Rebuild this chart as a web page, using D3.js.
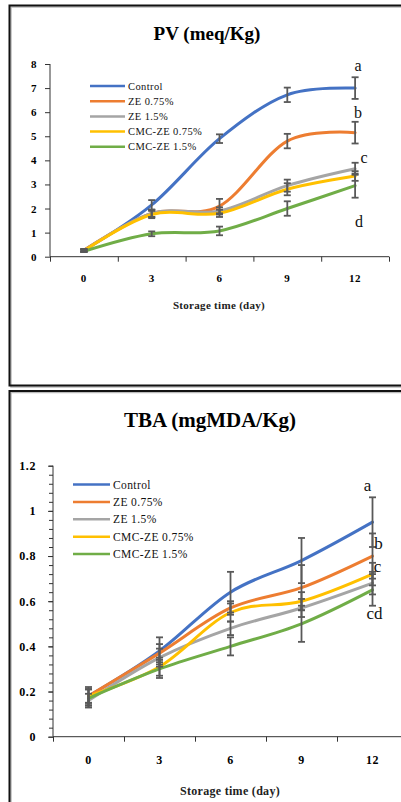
<!DOCTYPE html>
<html><head><meta charset="utf-8">
<script src="https://cdn.jsdelivr.net/npm/d3@7"></script>
<style>
html,body{margin:0;padding:0;background:#fff;}
svg{display:block;}
text{font-family:"Liberation Serif","Times New Roman",serif;}
</style></head>
<body>
<svg id="c" width="401" height="802"></svg>
<script>
const days = ["0","3","6","9","12"];
const seriesNames = ["Control","ZE 0.75%","ZE 1.5%","CMC-ZE 0.75%","CMC-ZE 1.5%"];
const seriesColors = ["#4472C4","#ED7D31","#A5A5A5","#FFC000","#70AD47"];

// PV (meq/Kg)
const pvControl = [0.27, 2.15, 4.9, 6.72, 7.0];
const pvZE075   = [0.27, 1.8, 2.1, 4.8, 5.15];
const pvZE15    = [0.25, 1.8, 1.9, 2.95, 3.65];
const pvCMC075  = [0.25, 1.75, 1.8, 2.8, 3.35];
const pvCMC15   = [0.22, 0.95, 1.07, 2.0, 2.95];
const pvErrControl = [0.05, 0.2, 0.18, 0.3, 0.45];
const pvErrZE075   = [0.05, 0.15, 0.3, 0.3, 0.45];
const pvErrZE15    = [0.05, 0.15, 0.15, 0.25, 0.25];
const pvErrCMC075  = [0.05, 0.15, 0.15, 0.25, 0.2];
const pvErrCMC15   = [0.03, 0.1, 0.18, 0.3, 0.5];
const pvTicks = [0,1,2,3,4,5,6,7,8];
const pvLetters = ["a","b","c","d"];
const pvLetterY = [7.7, 5.75, 3.9, 1.25];
const pvLetterDx = [3, 3, 9, 4];

// TBA (mgMDA/Kg)
const tbaControl = [0.18, 0.38, 0.64, 0.78, 0.95];
const tbaZE075   = [0.18, 0.37, 0.57, 0.66, 0.80];
const tbaZE15    = [0.16, 0.35, 0.48, 0.57, 0.68];
const tbaCMC075  = [0.18, 0.31, 0.55, 0.60, 0.72];
const tbaCMC15   = [0.17, 0.30, 0.40, 0.50, 0.65];
const tbaErrControl = [0.04, 0.06, 0.09, 0.10, 0.11];
const tbaErrZE075   = [0.03, 0.04, 0.03, 0.10, 0.10];
const tbaErrZE15    = [0.03, 0.04, 0.03, 0.04, 0.05];
const tbaErrCMC075  = [0.03, 0.04, 0.04, 0.04, 0.05];
const tbaErrCMC15   = [0.04, 0.04, 0.04, 0.08, 0.07];
const tbaTicks = [0,0.2,0.4,0.6,0.8,1,1.2];
const tbaLetters = ["a","b","c","cd"];
const tbaLetterY = [1.09, 0.83, 0.73, 0.52];
const tbaLetterDx = [-5, 6, 5, 2];

const svg = d3.select("#c");

// panel frames
function frame(x, y, w, h){
  svg.append("rect").attr("x",x+1.5).attr("y",y+1.5).attr("width",w).attr("height",h)
    .attr("fill","none").attr("stroke","#bbb").attr("stroke-width",1.5);
  svg.append("rect").attr("x",x).attr("y",y).attr("width",w).attr("height",h)
    .attr("fill","none").attr("stroke","#111").attr("stroke-width",2);
}
frame(9.5, 5.5, 420, 380);
frame(9.5, 391, 420, 430);

function chart(cfg){
  const g = svg.append("g");
  const x = d3.scaleBand().domain(days).range(cfg.xr);
  const xi = d3.scaleLinear().domain([0, days.length]).range(cfg.xr);
  const y = d3.scaleLinear().domain(cfg.yd).range(cfg.yr);
  const cx = d => x(d) + x.bandwidth()/2;

  // title
  g.append("text").attr("x",cfg.titleX).attr("y",cfg.titleY).attr("text-anchor","middle")
    .attr("font-weight","bold").attr("font-size",cfg.titleSize).attr("fill","#000").text(cfg.title);

  // minor ticks
  if (cfg.minor){
    g.append("g").attr("transform",`translate(${cfg.xr[0]},0)`)
      .call(d3.axisLeft(y).tickValues(d3.range(0, cfg.yd[1]+1e-9, cfg.minor)).tickSize(4).tickFormat(""))
      .call(s=>s.select(".domain").remove())
      .call(s=>s.selectAll("line").attr("stroke","#333"));
  }
  // y axis
  const ya = g.append("g").attr("transform",`translate(${cfg.xr[0]},0)`)
    .call(d3.axisLeft(y).tickValues(cfg.yTicks).tickSize(5).tickPadding(cfg.yPad).tickFormat(d=>d3.format("")(+d.toFixed(2))));
  ya.select(".domain").attr("stroke","#333").attr("d",`M0,${cfg.yr[0]}V${cfg.yr[1]}`);
  ya.selectAll("line").attr("stroke","#333");
  ya.selectAll("text").attr("font-family","'Liberation Serif',serif").attr("font-weight","bold")
    .attr("font-size",cfg.tickSize).attr("fill","#000").attr("letter-spacing",0.6);

  // x axis tick marks at band boundaries
  const xa = g.append("g").attr("transform",`translate(0,${cfg.yr[0]})`)
    .call(d3.axisBottom(xi).ticks(days.length).tickSize(5).tickFormat(""));
  xa.select(".domain").attr("stroke","#333").attr("d",`M${cfg.xr[0]},0H${cfg.xr[1]}`);
  xa.selectAll("line").attr("stroke","#333");
  // x labels
  const xl = g.append("g").attr("transform",`translate(0,${cfg.yr[0]})`)
    .call(d3.axisBottom(x).tickSize(0));
  xl.select(".domain").remove();
  xl.selectAll("text").attr("y",cfg.xLabOff).attr("dy","0.35em")
    .attr("font-family","'Liberation Serif',serif").attr("font-weight","bold")
    .attr("font-size",cfg.tickSize).attr("fill","#000").attr("letter-spacing",0.6);

  // x title
  g.append("text").attr("x",cfg.xTitleX).attr("y",cfg.xTitleY).attr("text-anchor","middle")
    .attr("font-weight","bold").attr("font-size",cfg.xTitleSize).attr("letter-spacing",0.3)
    .attr("fill","#222").text("Storage time (day)");

  // lines
  const line = d3.line().x((v,i)=>cx(days[i])).y(v=>y(v)).curve(d3.curveCardinal.tension(0));
  cfg.series.forEach((s,k)=>{
    g.append("path").attr("d",line(s)).attr("fill","none")
      .attr("stroke",seriesColors[k]).attr("stroke-width",3).attr("stroke-linecap","round");
  });
  // error bars
  cfg.series.forEach((s,k)=>{
    s.forEach((v,i)=>{
      const e = cfg.errs[k][i];
      const px = cx(days[i]);
      const eb = g.append("g").attr("stroke","#595959").attr("stroke-width",1.8);
      eb.append("line").attr("x1",px).attr("x2",px).attr("y1",y(v+e)).attr("y2",y(v-e));
      eb.append("line").attr("x1",px-3.5).attr("x2",px+3.5).attr("y1",y(v+e)).attr("y2",y(v+e));
      eb.append("line").attr("x1",px-3.5).attr("x2",px+3.5).attr("y1",y(v-e)).attr("y2",y(v-e));
    });
  });
  // letters
  cfg.letters.forEach((t,i)=>{
    g.append("text").attr("x",cx(days[days.length-1])+cfg.letterDx[i]).attr("y",y(cfg.letterY[i]))
      .attr("text-anchor","middle").attr("font-size",cfg.letterSize).attr("fill","#111").text(t);
  });
  // legend
  seriesNames.forEach((n,k)=>{
    const ly = cfg.legY + k*cfg.legStep;
    g.append("line").attr("x1",cfg.legX).attr("x2",cfg.legX+cfg.legLen).attr("y1",ly).attr("y2",ly)
      .attr("stroke",seriesColors[k]).attr("stroke-width",2.5);
    g.append("text").attr("x",cfg.legX+cfg.legLen+3).attr("y",ly).attr("dy","0.35em")
      .attr("font-size",cfg.legSize).attr("letter-spacing",0.4).attr("fill","#111").text(n);
  });
}

chart({
  title:"PV (meq/Kg)", titleX:207, titleY:40, titleSize:19,
  xr:[50,389], yd:[0,8], yr:[256.7,64], yTicks:pvTicks, yPad:8, tickSize:11, xLabOff:21,
  xTitleX:219, xTitleY:309, xTitleSize:11,
  series:[pvControl,pvZE075,pvZE15,pvCMC075,pvCMC15],
  errs:[pvErrControl,pvErrZE075,pvErrZE15,pvErrCMC075,pvErrCMC15],
  letters:pvLetters, letterY:pvLetterY, letterDx:pvLetterDx, letterSize:16,
  legX:90, legLen:35, legY:86, legStep:15.2, legSize:10.5
});

chart({
  title:"TBA (mgMDA/Kg)", titleX:210, titleY:427, titleSize:21,
  xr:[53,408], yd:[0,1.2], yr:[736.7,465.7], yTicks:tbaTicks, yPad:12, tickSize:12, xLabOff:23, minor:0.04,
  xTitleX:230, xTitleY:795, xTitleSize:12,
  series:[tbaControl,tbaZE075,tbaZE15,tbaCMC075,tbaCMC15],
  errs:[tbaErrControl,tbaErrZE075,tbaErrZE15,tbaErrCMC075,tbaErrCMC15],
  letters:tbaLetters, letterY:tbaLetterY, letterDx:tbaLetterDx, letterSize:17,
  legX:73, legLen:37, legY:484.5, legStep:17.4, legSize:11.5
});
</script>
</body></html>
